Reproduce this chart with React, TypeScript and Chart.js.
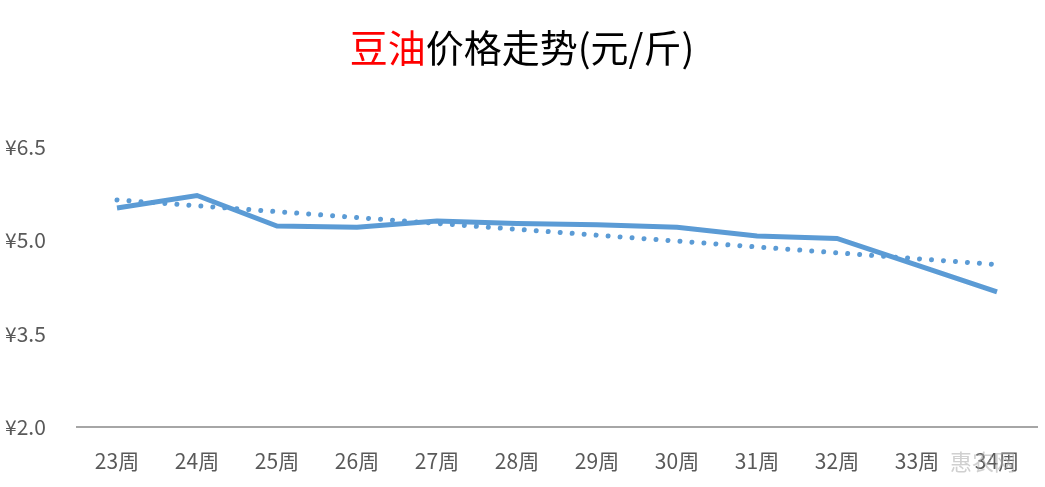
import React, { useEffect, useRef } from "react";
import { Chart, registerables } from "chart.js";

Chart.register(...registerables);

const titleRed = "豆油";
const titleRest = "价格走势(元/斤)";
const categories = ["23周", "24周", "25周", "26周", "27周", "28周", "29周", "30周", "31周", "32周", "33周", "34周"];
const priceValues = [5.52, 5.72, 5.23, 5.21, 5.31, 5.27, 5.25, 5.21, 5.07, 5.03, 4.6, 4.17];
// linear trend line (Excel trendline), endpoints
const trendValues = [5.65, null, null, null, null, null, null, null, null, null, null, 4.61];
const yTicks = [2.0, 3.5, 5.0, 6.5];
const watermark = "惠农网";

const FONT = "'Noto Sans CJK SC', 'Noto Sans', sans-serif";

export default function App() {
  const ref = useRef<HTMLCanvasElement>(null);
  useEffect(() => {
    document.body.style.margin = "0";
    const titlePlugin = {
      id: "twoColorTitle",
      afterDraw(chart: any) {
        const ctx = chart.ctx;
        ctx.save();
        ctx.font = `38px ${FONT}`;
        ctx.textBaseline = "middle";
        const w1 = ctx.measureText(titleRed).width;
        const w2 = ctx.measureText(titleRest).width;
        const x0 = 522 - (w1 + w2) / 2;
        ctx.fillStyle = "#FF0000";
        ctx.fillText(titleRed, x0, 48);
        ctx.fillStyle = "#000000";
        ctx.fillText(titleRest, x0 + w1, 48);
        ctx.font = `22px ${FONT}`;
        ctx.fillStyle = "rgba(170,170,170,0.55)";
        ctx.textAlign = "left";
        ctx.fillText(watermark, 950, 462);
        ctx.restore();
      },
    };
    const chart = new Chart(ref.current!, {
      type: "line",
      data: {
        labels: categories,
        datasets: [
          {
            data: priceValues,
            borderColor: "#5B9BD5",
            borderWidth: 5,
            pointRadius: 0,
            tension: 0,
            fill: false,
          },
          {
            data: trendValues as any,
            borderColor: "#5B9BD5",
            borderWidth: 5,
            borderDash: [0.01, 12],
            borderCapStyle: "round",
            pointRadius: 0,
            spanGaps: true,
            fill: false,
          },
        ],
      },
      options: {
        animation: false,
        responsive: false,
        layout: { padding: { left: 5, right: 8, top: 147, bottom: 0 } },
        plugins: { legend: { display: false }, title: { display: false }, tooltip: { enabled: false } },
        scales: {
          x: {
            offset: true,
            grid: { display: false, drawTicks: false },
            border: { display: true, color: "#A6A6A6", width: 2 },
            ticks: { color: "#595959", font: { family: FONT, size: 21 }, padding: 21, maxRotation: 0 },
            afterFit: (s: any) => { s.height = 60; },
          },
          y: {
            min: 2,
            max: 6.5,
            afterBuildTicks: (s: any) => { s.ticks = yTicks.map((v) => ({ value: v })); },
            grid: { display: false, drawTicks: false },
            border: { display: false },
            ticks: {
              color: "#595959",
              font: { family: FONT, size: 21 },
              crossAlign: "far",
              callback: (v: any) => "¥" + Number(v).toFixed(1),
            },
            afterFit: (s: any) => { s.width = 72; },
          },
        },
      },
      plugins: [titlePlugin],
    });
    return () => chart.destroy();
  }, []);
  return (
    <div style={{ width: 1045, height: 487 }}>
      <canvas ref={ref} width={1045} height={487} style={{ width: 1045, height: 487 }} />
    </div>
  );
}
